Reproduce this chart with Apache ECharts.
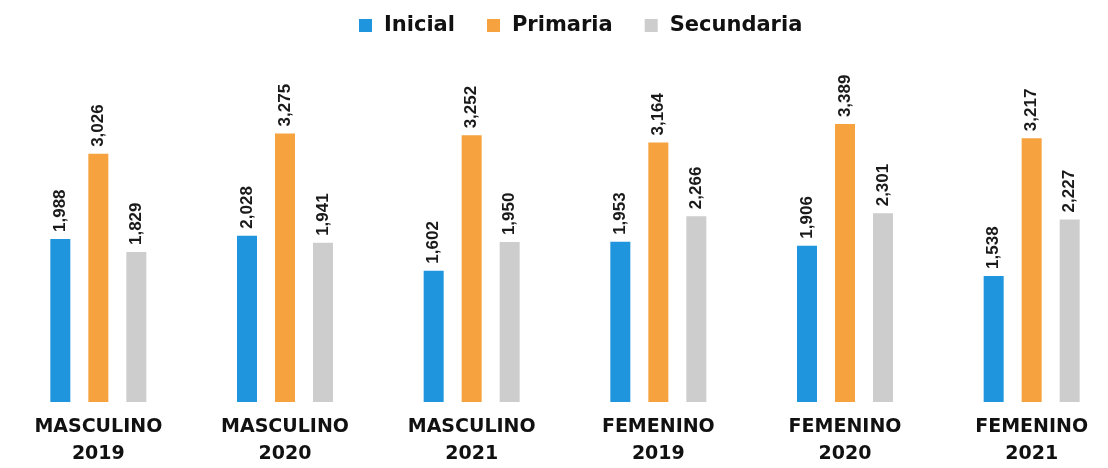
<!DOCTYPE html>
<html>
<head>
<meta charset="utf-8">
<script src="https://cdn.jsdelivr.net/npm/echarts@6/dist/echarts.min.js"></script>
<style>
	html, body { margin: 0; padding: 0; background: #fff; }
	#main { width: 1108px; height: 468px; }
</style>
</head>
<body>
<div id="main"></div>
<script>
const categories = ['MASCULINO\n2019', 'MASCULINO\n2020', 'MASCULINO\n2021', 'FEMENINO\n2019', 'FEMENINO\n2020', 'FEMENINO\n2021']
const inicial = [1988, 2028, 1602, 1953, 1906, 1538]
const primaria = [3026, 3275, 3252, 3164, 3389, 3217]
const secundaria = [1829, 1941, 1950, 2266, 2301, 2227]

const chartDom = document.getElementById('main')
const myChart = echarts.init(chartDom)

// etiqueta girada encima de cada barra
const barLabel = {
	show: true,
	position: 'top',
	rotate: 90,
	align: 'left',
	verticalAlign: 'middle',
	distance: 7,
	fontFamily: 'Liberation Sans Narrow, Liberation Sans, sans-serif',
	fontWeight: 'bold',
	fontSize: 17,
	color: '#1a1a1a',
	formatter: p => p.value.toLocaleString('en-US')
}

const option = {
	color: ['#1e95dc', '#f5a23f', '#cdcdcd'],
	legend: {
		top: 10,
		left: 354,
		itemWidth: 13,
		itemHeight: 13,
		itemGap: 32,
		icon: 'rect',
		textStyle: {
			fontFamily: 'DejaVu Sans, sans-serif',
			fontWeight: 'bold',
			fontSize: 21,
			color: '#111',
			padding: [0, 0, 0, 7]
		},
		data: ['Inicial', 'Primaria', 'Secundaria']
	},
	grid: {
		left: 5,
		right: -17,
		top: 74,
		bottom: 66,
		outerBoundsMode: 'none'
	},
	xAxis: {
		type: 'category',
		data: categories,
		axisLine: { show: false },
		axisTick: { show: false },
		axisLabel: {
			interval: 0,
			margin: 12,
			fontFamily: 'DejaVu Sans, sans-serif',
			fontWeight: 'bold',
			fontSize: 19,
			lineHeight: 27,
			color: '#111'
		}
	},
	yAxis: {
		type: 'value',
		min: 0,
		max: 4000,
		show: false
	},
	series: [
		{ name: 'Inicial', type: 'bar', barWidth: 20, barGap: '90%', label: barLabel, data: inicial },
		{ name: 'Primaria', type: 'bar', barWidth: 20, barGap: '90%', label: barLabel, data: primaria },
		{ name: 'Secundaria', type: 'bar', barWidth: 20, barGap: '90%', label: barLabel, data: secundaria }
	]
}

option && myChart.setOption(option)
</script>
</body>
</html>
